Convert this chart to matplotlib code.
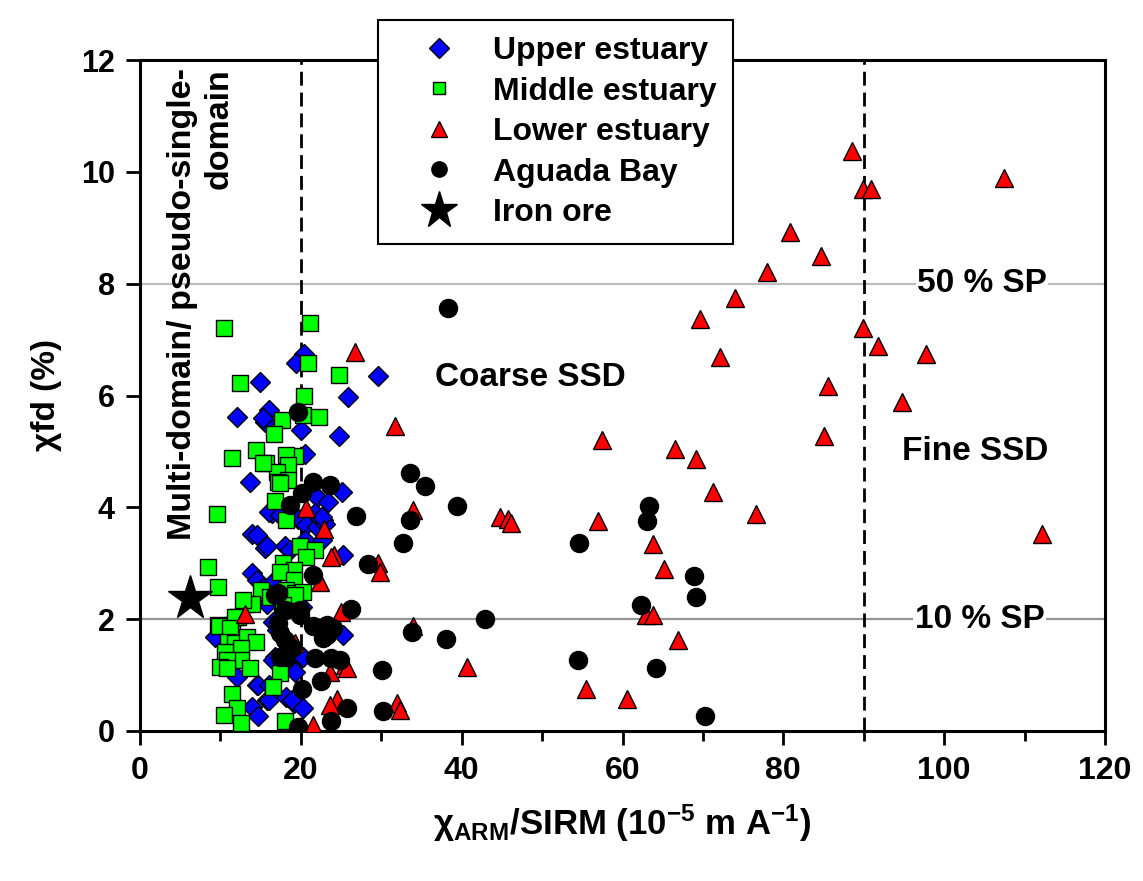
import matplotlib
matplotlib.use("Agg")
import matplotlib.pyplot as plt
from matplotlib import font_manager
from matplotlib.lines import Line2D
from matplotlib.ticker import MultipleLocator

# --- data ------------------------------------------------------------------
upper_x = [20.4, 19.4, 14.9, 29.6, 25.9, 12.0, 16.0, 15.5, 15.3, 20.0, 24.7, 20.5, 13.7, 25.1,
           22.0, 23.4, 16.4, 16.0, 17.4, 19.7, 20.7, 22.0, 22.8, 21.8, 23.0, 22.6, 13.9, 14.5,
           15.5, 15.8, 18.0, 18.7, 20.5, 22.6, 25.3, 13.9, 14.5, 16.4, 15.3, 15.8, 20.1, 9.7,
           9.3, 16.6, 17.0, 25.3, 16.8, 16.6, 19.1, 20.3, 18.9, 19.3, 12.0, 14.5, 14.7, 16.0,
           15.8, 18.2, 19.1, 18.9, 20.3, 13.9, 14.7, 16.0]
upper_y = [6.74, 6.59, 6.25, 6.35, 5.98, 5.61, 5.74, 5.53, 5.59, 5.39, 5.28, 4.95, 4.46, 4.28,
           4.19, 4.10, 3.89, 3.92, 3.86, 3.80, 3.68, 3.65, 3.77, 3.89, 3.71, 3.83, 3.53, 3.50,
           3.28, 3.30, 3.30, 3.24, 3.42, 3.42, 3.15, 2.82, 2.70, 2.64, 2.55, 2.28, 2.22, 1.69,
           1.69, 1.95, 1.81, 1.72, 1.33, 1.27, 1.18, 1.33, 1.15, 1.06, 0.97, 0.82, 0.82, 0.82,
           0.55, 0.61, 0.50, 0.55, 0.41, 0.43, 0.27, 0.55]

middle_x = [10.4, 21.1, 20.9, 24.8, 12.4, 20.4, 20.3, 22.3, 17.6, 16.7, 14.4, 11.4, 19.3, 18.2,
            15.7, 18.4, 17.0, 18.4, 17.2, 17.4, 16.8, 9.6, 18.2, 19.9, 21.8, 20.7, 17.8, 19.1,
            17.4, 19.1, 8.5, 9.7, 15.1, 16.2, 18.2, 19.3, 20.3, 13.1, 13.9, 12.8, 17.6, 19.3,
            17.8, 9.7, 11.4, 12.2, 11.8, 9.8, 11.2, 11.0, 11.8, 13.3, 14.4, 12.6, 10.6, 12.6,
            10.8, 9.9, 13.7, 10.8, 17.4, 16.6, 11.4, 12.0, 10.4, 12.6, 18.0, 15.3]
middle_y = [7.20, 7.30, 6.59, 6.37, 6.22, 5.99, 5.65, 5.61, 5.57, 5.32, 5.02, 4.88, 4.91, 4.94,
            4.79, 4.76, 4.64, 4.49, 4.46, 4.43, 4.12, 3.88, 3.77, 3.30, 3.24, 3.12, 3.00, 2.88,
            2.85, 2.70, 2.93, 2.58, 2.52, 2.40, 2.52, 2.46, 2.49, 2.28, 2.28, 2.34, 2.25, 2.43,
            2.25, 1.90, 1.90, 2.04, 2.03, 1.87, 1.84, 1.60, 1.57, 1.69, 1.60, 1.48, 1.42, 1.27,
            1.27, 1.15, 1.12, 1.12, 1.03, 0.79, 0.67, 0.41, 0.29, 0.14, 0.17, 4.79]

lower_x = [88.5, 89.9, 90.9, 107.5, 80.8, 84.7, 78.0, 74.0, 69.6, 89.9, 91.8, 97.8, 72.1, 85.5,
           94.7, 85.1, 57.4, 66.5, 69.2, 71.2, 76.6, 112.2, 57.0, 63.8, 65.2, 62.9, 63.8, 66.9,
           60.5, 55.5, 40.7, 44.8, 45.8, 46.1, 26.7, 31.7, 33.9, 24.1, 23.8, 29.6, 29.8, 25.0,
           33.9, 25.5, 25.8, 23.6, 24.5, 23.6, 31.9, 32.3, 22.4, 22.9, 20.6, 19.3, 13.1, 21.5]
lower_y = [10.37, 9.69, 9.69, 9.89, 8.93, 8.50, 8.21, 7.75, 7.36, 7.20, 6.88, 6.74, 6.68, 6.17,
           5.88, 5.27, 5.20, 5.05, 4.86, 4.27, 3.88, 3.52, 3.76, 3.35, 2.90, 2.08, 2.08, 1.62,
           0.58, 0.76, 1.15, 3.82, 3.80, 3.72, 6.77, 5.45, 3.95, 3.15, 3.12, 3.00, 2.85, 2.13,
           1.87, 1.18, 1.12, 1.06, 0.58, 0.46, 0.50, 0.38, 2.67, 3.62, 3.98, 1.57, 2.10, 0.11]

aguada_x = [38.3, 33.6, 35.4, 39.4, 33.6, 26.9, 32.7, 54.6, 28.4, 26.3, 42.9, 33.8, 38.1, 30.1,
            54.5, 25.8, 30.2, 23.8, 63.3, 63.1, 68.9, 69.1, 62.3, 64.2, 70.2, 19.6, 21.5, 23.6,
            20.1, 18.7, 21.5, 16.8, 18.0, 19.9, 17.2, 17.4, 18.0, 18.9, 17.4, 18.2, 21.5, 23.2,
            22.8, 23.2, 24.0, 21.8, 23.8, 24.9, 22.5, 20.1, 19.7, 17.2, 19.9]
aguada_y = [7.56, 4.61, 4.39, 4.03, 3.77, 3.85, 3.37, 3.36, 2.98, 2.19, 2.01, 1.77, 1.64, 1.09,
            1.27, 0.41, 0.35, 0.17, 4.02, 3.75, 2.78, 2.40, 2.25, 1.12, 0.26, 5.71, 4.46, 4.40,
            4.25, 4.05, 2.79, 2.43, 2.16, 2.16, 1.93, 1.75, 1.63, 1.48, 1.33, 1.33, 1.88, 1.90,
            1.66, 1.72, 1.84, 1.30, 1.31, 1.27, 0.90, 0.76, 0.08, 2.46, 2.07]

iron_x = [6.2]
iron_y = [2.37]

x_ticks = [0, 20, 40, 60, 80, 100, 120]
y_ticks = [0, 2, 4, 6, 8, 10, 12]

# --- fonts ------------------------------------------------------------------
installed = {f.name for f in font_manager.fontManager.ttflist}
narrow = "Liberation Sans Narrow" if "Liberation Sans Narrow" in installed else "Liberation Sans"
plt.rcParams["font.family"] = ["Liberation Sans", "DejaVu Sans"]
plt.rcParams["font.weight"] = "bold"
plt.rcParams["axes.labelweight"] = "bold"
plt.rcParams["mathtext.fontset"] = "custom"
plt.rcParams["mathtext.rm"] = "Liberation Sans:bold"
plt.rcParams["mathtext.bf"] = "Liberation Sans:bold"
plt.rcParams["mathtext.it"] = "Liberation Sans:bold"
plt.rcParams["mathtext.default"] = "rm"

fig = plt.figure(figsize=(11.43, 8.81), dpi=100)
ax = fig.add_axes([140 / 1143, 1 - 731 / 881, 965 / 1143, 671 / 881])

# reference lines
ax.axhline(8, color="#bdbdbd", lw=1.6, zorder=1)
ax.axhline(2, color="#959595", lw=1.6, zorder=1)
ax.axvline(20, color="black", lw=2.0, ls=(0, (5, 2.5)), zorder=1)
ax.axvline(90, color="black", lw=2.0, ls=(0, (5, 2.5)), zorder=1)

kw = dict(linestyle="none", markeredgecolor="black", markeredgewidth=1.0, zorder=3)
ax.plot(upper_x, upper_y, marker="D", color="#0000ff", markersize=10.5, **kw)
ax.plot(middle_x, middle_y, marker="s", color="#00ff00", markersize=11, **kw)
ax.plot(lower_x, lower_y, marker="^", color="#ff0000", markersize=13, **kw)
ax.plot(aguada_x, aguada_y, marker="o", color="black", markersize=13, **kw)
ax.plot(iron_x, iron_y, marker="*", color="black", markersize=33, **kw)

# annotations
txt = dict(fontsize=24, fontweight="bold", zorder=4)
bg = dict(facecolor="white", edgecolor="none", pad=1)
ax.text(104.7, 8, "50 % SP", ha="center", va="center", bbox=bg, **txt)
ax.text(104.4, 2, "10 % SP", ha="center", va="center", bbox=bg, **txt)
ax.text(103.8, 4.99, "Fine SSD", ha="center", va="center", **txt)
ax.text(48.5, 6.33, "Coarse SSD", ha="center", va="center", **txt)
ax.text(7.6, 11.86, "Multi-domain/ pseudo-single-\ndomain", rotation=90, ha="center",
        va="top", multialignment="right", linespacing=1.25, fontsize=24.5, fontweight="bold",
        zorder=4)

# axes
ax.set_xlim(0, 120)
ax.set_ylim(0, 12)
ax.set_xticks(x_ticks)
ax.set_yticks(y_ticks)
ax.xaxis.set_minor_locator(MultipleLocator(10))
for s in ax.spines.values():
    s.set_linewidth(2.2)
ax.tick_params(axis="both", which="major", direction="out", length=10, width=2, pad=8)
ax.tick_params(axis="x", which="minor", direction="out", length=7, width=2)
for lab in ax.get_xticklabels():
    lab.set_fontfamily(narrow)
    lab.set_fontsize(23)
    lab.set_fontweight("bold")
for lab in ax.get_yticklabels():
    lab.set_fontsize(22)
    lab.set_fontweight("bold")

ax.set_xlabel(r"$\chi_{ARM}$/SIRM (10$^{-5}$ m A$^{-1}$)", fontsize=25, fontweight="bold",
              labelpad=12)
ax.set_ylabel("\u03c7fd (%)", fontsize=24, fontweight="bold", labelpad=14)

handles = [
    Line2D([], [], marker="D", color="#0000ff", markersize=10, **kw),
    Line2D([], [], marker="s", color="#00ff00", markersize=9, **kw),
    Line2D([], [], marker="^", color="#ff0000", markersize=11, **kw),
    Line2D([], [], marker="o", color="black", markersize=11, **kw),
    Line2D([], [], marker="*", color="black", markersize=28, **kw),
]
labels = ["Upper estuary", "Middle estuary", "Lower estuary", "Aguada Bay", "Iron ore"]
leg = ax.legend(handles, labels, loc="upper left", bbox_to_anchor=(378 / 1143, 1 - 20 / 881),
                bbox_transform=fig.transFigure, frameon=True, fancybox=False,
                edgecolor="black", framealpha=1, prop=dict(size=23, weight="bold"),
                handlelength=2.8, handletextpad=0.3, borderpad=0.5, labelspacing=0.33,
                borderaxespad=0)
leg.get_frame().set_linewidth(1.5)
leg.set_zorder(10)

fig.savefig("out.png", dpi=100)
